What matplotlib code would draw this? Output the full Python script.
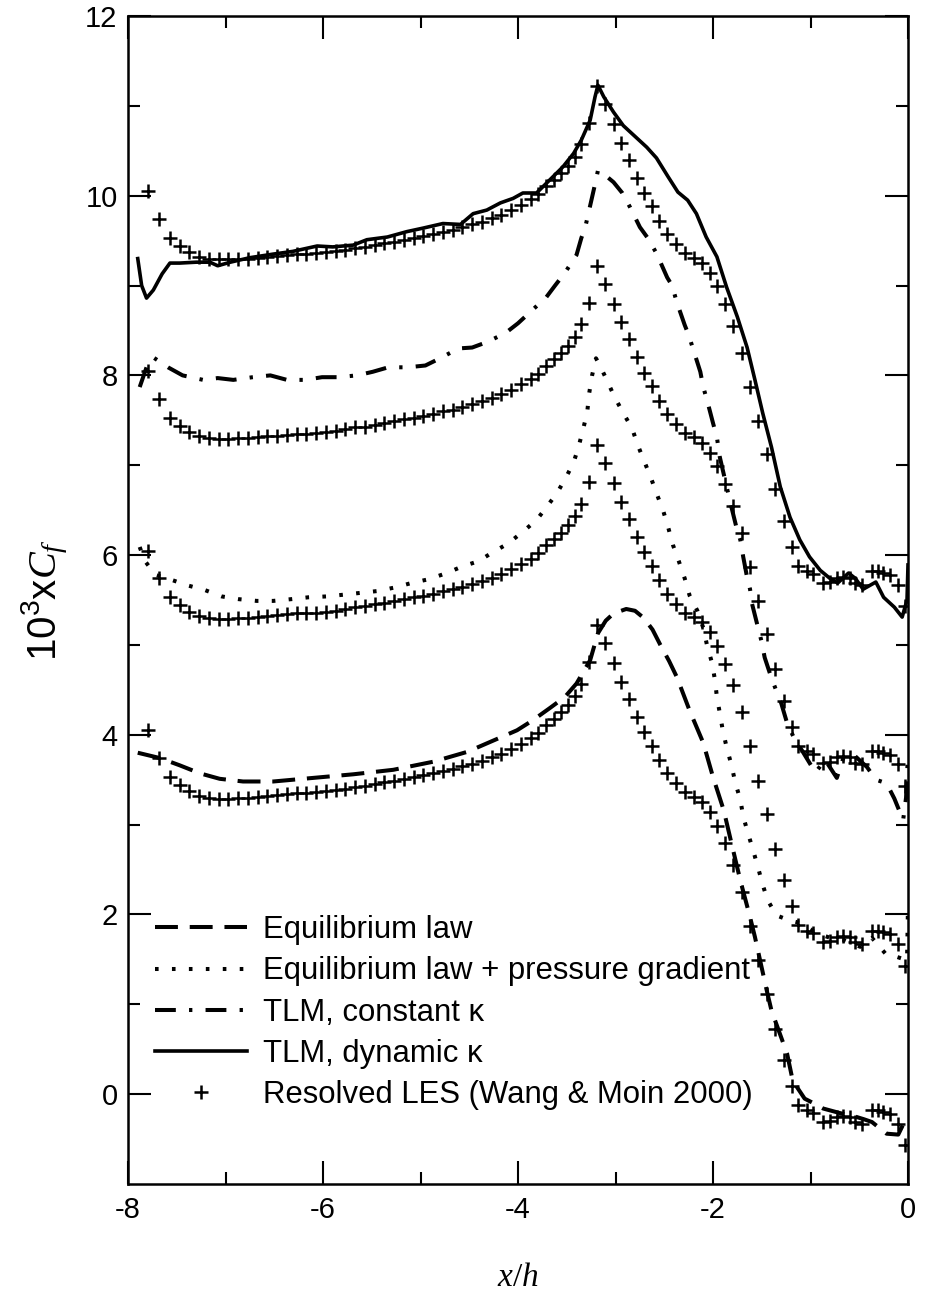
import numpy as np
import matplotlib
matplotlib.use("Agg")
import matplotlib.pyplot as plt

plt.rcParams['font.family'] = ['Liberation Sans', 'DejaVu Sans']
plt.rcParams['mathtext.fontset'] = 'custom'
plt.rcParams['mathtext.rm'] = 'Liberation Serif'
plt.rcParams['mathtext.it'] = 'Liberation Serif:italic'
plt.rcParams['mathtext.sf'] = 'Liberation Sans'
plt.rcParams['lines.scale_dashes'] = False

# ---------------- data (10^3 Cf, before vertical offsets) ----------------
labels = ["Equilibrium law",
          "Equilibrium law + pressure gradient",
          "TLM, constant κ",
          "TLM, dynamic κ",
          "Resolved LES (Wang & Moin 2000)"]
model_offsets = [0, 2, 4, 6]   # vertical shift of each model curve
les_offsets = [0, 2, 4, 6]     # LES reference repeated under each model

les_x = [-7.80, -7.68, -7.57, -7.47, -7.37, -7.27, -7.17, -7.07, -6.97, -6.87,
         -6.77, -6.67, -6.57, -6.47, -6.37, -6.27, -6.17, -6.07, -5.97, -5.87,
         -5.77, -5.67, -5.57, -5.47, -5.37, -5.27, -5.17, -5.07, -4.97, -4.87,
         -4.77, -4.67, -4.57, -4.47, -4.37, -4.27, -4.17, -4.07, -3.97, -3.87,
         -3.79, -3.71, -3.63, -3.56, -3.49, -3.42, -3.35, -3.27, -3.19, -3.11,
         -3.02, -2.94, -2.86, -2.78, -2.71, -2.63, -2.55, -2.47, -2.38, -2.29,
         -2.20, -2.11, -2.03, -1.96, -1.88, -1.79, -1.70, -1.62, -1.54, -1.45,
         -1.36, -1.27, -1.19, -1.13, -1.04, -0.97, -0.87, -0.80, -0.73, -0.67,
         -0.60, -0.54, -0.47, -0.37, -0.31, -0.26, -0.18, -0.10, -0.03]
les_y = [4.05, 3.74, 3.53, 3.44, 3.37, 3.32, 3.30, 3.29, 3.29, 3.30,
         3.30, 3.31, 3.32, 3.33, 3.34, 3.35, 3.35, 3.36, 3.37, 3.38,
         3.40, 3.42, 3.43, 3.45, 3.47, 3.49, 3.51, 3.53, 3.55, 3.57,
         3.60, 3.62, 3.65, 3.68, 3.71, 3.75, 3.79, 3.84, 3.90, 3.96,
         4.02, 4.11, 4.18, 4.25, 4.33, 4.43, 4.57, 4.81, 5.22, 5.02,
         4.80, 4.59, 4.40, 4.20, 4.03, 3.88, 3.72, 3.57, 3.46, 3.36,
         3.31, 3.25, 3.14, 2.99, 2.79, 2.55, 2.25, 1.87, 1.49, 1.12,
         0.73, 0.38, 0.09, -0.12, -0.18, -0.21, -0.31, -0.30, -0.25, -0.24,
         -0.25, -0.31, -0.33, -0.18, -0.18, -0.20, -0.22, -0.33, -0.57]

eq_x = [-7.90, -7.67, -7.47, -7.26, -7.06, -6.82, -6.51, -6.10, -5.69, -5.28,
        -4.87, -4.52, -4.18, -4.01, -3.85, -3.67, -3.52, -3.40, -3.26, -3.18,
        -3.10, -3.02, -2.89, -2.80, -2.71, -2.62, -2.54, -2.45, -2.37, -2.24,
        -2.10, -2.00, -1.89, -1.81, -1.72, -1.62, -1.57, -1.45, -1.40, -1.24,
        -1.19, -1.14, -1.06, -0.97, -0.87, -0.70, -0.54, -0.45, -0.37, -0.22,
        -0.10, -0.01]
eq_y = [3.80, 3.74, 3.66, 3.57, 3.51, 3.48, 3.48, 3.52, 3.56, 3.61,
        3.70, 3.81, 3.97, 4.05, 4.16, 4.30, 4.42, 4.57, 4.83, 5.13,
        5.27, 5.35, 5.40, 5.38, 5.30, 5.17, 5.00, 4.82, 4.64, 4.27,
        3.91, 3.53, 3.16, 2.79, 2.38, 1.97, 1.75, 1.16, 0.93, 0.45,
        0.19, 0.08, -0.05, -0.10, -0.16, -0.21, -0.25, -0.28, -0.31, -0.44,
        -0.45, -0.25]

pg_x = [-7.88, -7.83, -7.72, -7.57, -7.38, -7.21, -7.04, -6.87, -6.68, -6.51,
        -6.32, -6.15, -5.96, -5.78, -5.61, -5.44, -5.26, -5.09, -4.92, -4.73,
        -4.58, -4.41, -4.26, -4.10, -3.95, -3.81, -3.71, -3.60, -3.51, -3.43,
        -3.38, -3.33, -3.29, -3.27, -3.24, -3.20, -3.16, -3.09, -3.01, -2.92,
        -2.83, -2.77, -2.70, -2.64, -2.58, -2.51, -2.46, -2.41, -2.35, -2.29,
        -2.24, -2.16, -2.10, -2.06, -2.01, -1.98, -1.96, -1.93, -1.90, -1.86,
        -1.81, -1.77, -1.72, -1.69, -1.64, -1.59, -1.54, -1.49, -1.44, -1.35,
        -1.23, -1.09, -0.95, -0.80, -0.67, -0.49, -0.37, -0.22, -0.12, -0.01,
        0.00]
pg_y = [4.09, 3.94, 3.78, 3.73, 3.66, 3.61, 3.54, 3.51, 3.49, 3.49,
        3.51, 3.53, 3.54, 3.56, 3.58, 3.60, 3.64, 3.69, 3.73, 3.80,
        3.87, 3.93, 4.03, 4.13, 4.26, 4.39, 4.53, 4.69, 4.86, 5.03,
        5.20, 5.41, 5.59, 5.80, 6.00, 6.19, 6.11, 5.95, 5.76, 5.58,
        5.41, 5.22, 5.03, 4.87, 4.69, 4.49, 4.31, 4.11, 3.93, 3.74,
        3.55, 3.38, 3.19, 2.99, 2.80, 2.61, 2.42, 2.24, 2.05, 1.86,
        1.66, 1.46, 1.28, 1.09, 0.90, 0.72, 0.53, 0.33, 0.16, -0.01,
        -0.06, -0.10, -0.20, -0.26, -0.28, -0.36, -0.26, -0.45, -0.47, -0.51,
        0.10]

tc_x = [-7.88, -7.81, -7.74, -7.59, -7.44, -7.23, -7.08, -6.92, -6.72, -6.54,
        -6.37, -6.18, -6.01, -5.85, -5.65, -5.49, -5.33, -5.13, -4.95, -4.80,
        -4.61, -4.47, -4.32, -4.13, -4.00, -3.88, -3.71, -3.62, -3.52, -3.40,
        -3.35, -3.31, -3.22, -3.18, -3.13, -3.02, -2.93, -2.85, -2.75, -2.67,
        -2.58, -2.47, -2.42, -2.37, -2.29, -2.25, -2.20, -2.13, -2.10, -2.06,
        -2.00, -1.96, -1.93, -1.86, -1.81, -1.76, -1.72, -1.69, -1.65, -1.62,
        -1.60, -1.54, -1.50, -1.47, -1.40, -1.34, -1.30, -1.24, -1.15, -1.09,
        -0.95, -0.85, -0.73, -0.66, -0.55, -0.42, -0.33, -0.22, -0.14, -0.05,
        -0.02, 0.00]
tc_y = [3.87, 4.09, 4.20, 4.09, 4.00, 3.95, 3.97, 3.95, 3.98, 4.00,
        3.95, 3.95, 3.98, 3.98, 4.00, 4.04, 4.09, 4.09, 4.11, 4.19,
        4.30, 4.31, 4.37, 4.47, 4.58, 4.70, 4.87, 5.00, 5.14, 5.34,
        5.53, 5.65, 6.08, 6.28, 6.25, 6.15, 6.03, 5.87, 5.65, 5.53,
        5.36, 5.09, 5.00, 4.81, 4.56, 4.45, 4.28, 4.04, 3.87, 3.72,
        3.47, 3.31, 3.09, 2.76, 2.53, 2.31, 2.17, 1.98, 1.75, 1.62,
        1.46, 1.20, 1.03, 0.86, 0.63, 0.46, 0.35, 0.13, -0.08, -0.17,
        -0.42, -0.28, -0.48, -0.25, -0.23, -0.36, -0.50, -0.54, -0.71, -0.95,
        -0.70, -0.20]

td_x = [-7.90, -7.86, -7.81, -7.74, -7.65, -7.57, -7.47, -7.30, -7.16, -7.08,
        -6.95, -6.75, -6.51, -6.31, -6.06, -5.90, -5.69, -5.55, -5.34, -5.14,
        -4.97, -4.77, -4.59, -4.46, -4.32, -4.18, -4.05, -3.95, -3.81, -3.67,
        -3.54, -3.43, -3.35, -3.26, -3.21, -3.18, -3.12, -3.02, -2.92, -2.83,
        -2.68, -2.58, -2.46, -2.36, -2.26, -2.17, -2.07, -1.96, -1.86, -1.75,
        -1.65, -1.57, -1.49, -1.40, -1.31, -1.21, -1.11, -1.01, -0.90, -0.80,
        -0.72, -0.61, -0.54, -0.46, -0.33, -0.25, -0.14, -0.06, -0.01, 0.00]
td_y = [3.30, 3.00, 2.86, 2.95, 3.13, 3.25, 3.25, 3.26, 3.26, 3.22,
        3.26, 3.31, 3.35, 3.38, 3.44, 3.43, 3.45, 3.51, 3.54, 3.60,
        3.64, 3.69, 3.68, 3.80, 3.84, 3.92, 3.97, 4.03, 4.03, 4.18,
        4.32, 4.47, 4.62, 4.84, 5.10, 5.23, 5.10, 4.93, 4.78, 4.69,
        4.54, 4.42, 4.21, 4.04, 3.95, 3.80, 3.54, 3.32, 2.98, 2.65,
        2.31, 1.95, 1.58, 1.20, 0.76, 0.42, 0.17, -0.02, -0.17, -0.26,
        -0.31, -0.20, -0.26, -0.38, -0.30, -0.47, -0.58, -0.69, -0.50, -0.11]

x_major = [-8, -6, -4, -2, 0]
x_minor = [-7, -5, -3, -1]
y_major = [0, 2, 4, 6, 8, 10, 12]
y_minor = [1, 3, 5, 7, 9, 11]

# ---------------- figure ----------------
W, H = 925, 1293
fig = plt.figure(figsize=(W / 100, H / 100), dpi=100)
ax = fig.add_axes([128 / W, 1 - 1184 / H, 780 / W, 1168 / H])

les_handle = None
for off in les_offsets:
    h, = ax.plot(les_x, np.array(les_y) + off, ls='none', marker='+',
                 ms=10.5, mew=1.8, color='black')
    if les_handle is None:
        les_handle = h

styles = [
    dict(lw=2.9, dashes=(16.5, 8.5), dash_capstyle='butt'),
    dict(lw=2.9, dashes=(2.6, 9.6), dash_capstyle='butt'),
    dict(lw=2.9, dashes=(15.0, 9.5, 2.4, 9.5), dash_capstyle='butt'),
    dict(lw=2.6, ls='-'),
]
model_x = [eq_x, pg_x, tc_x, td_x]
model_y = [eq_y, pg_y, tc_y, td_y]
handles = []
for xs, ys, off, st in zip(model_x, model_y, model_offsets, styles):
    h, = ax.plot(xs, np.array(ys) + off, color='black', **st)
    handles.append(h)
handles.append(les_handle)

ax.set_xlim(-8, 0)
ax.set_ylim(-1, 12)
ax.set_xticks(x_major)
ax.set_xticks(x_minor, minor=True)
ax.set_yticks(y_major)
ax.set_yticks(y_minor, minor=True)
ax.set_xticklabels([str(v) for v in x_major])
ax.set_yticklabels([str(v) for v in y_major])
ax.tick_params(which='both', direction='in', top=True, right=True, width=1.5)
ax.tick_params(which='major', length=16.5, labelsize=21)
ax.tick_params(axis='x', which='major', pad=9)
ax.tick_params(axis='y', which='major', pad=7.5)
ax.tick_params(which='minor', length=8.5)
for sp in ax.spines.values():
    sp.set_linewidth(1.8)

ax.set_xlabel(r'$x/h$', fontsize=24, va='baseline')
ax.xaxis.set_label_coords(0.5, -(1286 - 1184) / 1168)
ax.set_ylabel(r'$\mathsf{10^3x}C_f$', fontsize=29)
ax.yaxis.set_label_coords(-0.074, 0.5)

leg = ax.legend(handles, labels, loc='lower left',
                bbox_to_anchor=(155 / W, 1 - 1110 / H),
                bbox_transform=fig.transFigure, frameon=False,
                fontsize=22.4, handlelength=2.96, handletextpad=0.52,
                labelspacing=0.36, borderpad=0, borderaxespad=0, numpoints=1)

fig.savefig('out.png', dpi=100)
